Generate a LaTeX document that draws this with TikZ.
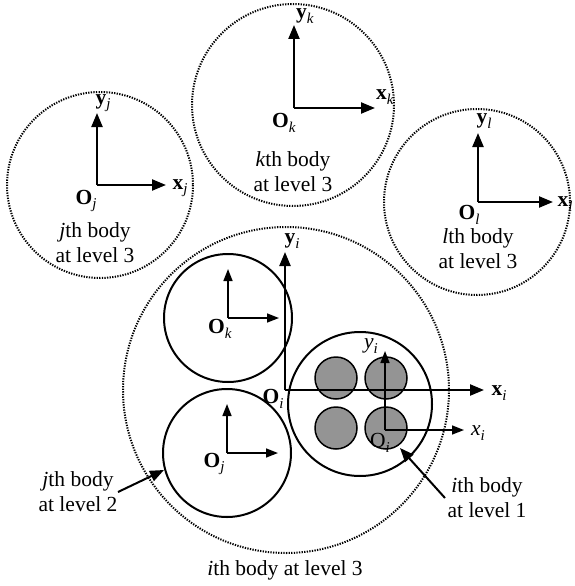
\documentclass[tikz,border=0pt]{standalone}
\usepackage{fontspec}
\setmainfont{Liberation Serif}
\usetikzlibrary{arrows.meta}
\newcommand\blab[2]{\textbf{#1}\raisebox{-0.45ex}{\fontsize{15}{15}\selectfont\textit{#2}}}
\newcommand\rlab[2]{#1\raisebox{-0.45ex}{\fontsize{15}{15}\selectfont\textit{#2}}}
\begin{document}
\begin{tikzpicture}[x=1pt,y=-1pt,
  dotc/.style={line width=2pt, dash pattern=on 1.3pt off 1.3pt},
  solidc/.style={line width=2pt},
  axisA/.style={line width=2.2pt,-{Triangle[length=14pt,width=11pt]}},
  axisB/.style={line width=1.6pt,-{Triangle[length=12pt,width=9pt]}},
  callout/.style={line width=2pt,-{Triangle[length=14pt,width=11pt]}},
  txt/.style={font=\fontsize{21.5}{25}\selectfont, inner sep=0pt, align=center},
  lab/.style={font=\fontsize{21.5}{25}\selectfont, inner sep=0pt},
  grey/.style={line width=1.5pt, fill=black!42}]
\useasboundingbox (0,0) rectangle (574,586);
\fill[white] (0,0) rectangle (574,586);

% ---- level 3 bodies j, k, l ----
\coordinate (Cj) at (100,185);
\coordinate (Ck) at (293,105);
\coordinate (Cl) at (477,202);
\draw[dotc] (Cj) circle (93);
\draw[dotc] (Ck) circle (101);
\draw[dotc] (Cl) circle (93);

% body j
\coordinate (Oj) at (97,185);
\coordinate (yj) at (97,113);
\coordinate (xj) at (166,185);
\draw[axisA] (Oj) -- (yj);
\draw[axisA] (Oj) -- (xj);
\node[lab] (lyj) at (103,103) {\blab{y}{j}};
\node[lab] (lxj) at (180,188) {\blab{x}{j}};
\node[lab] (lOj) at (86,201) {\blab{O}{j}};
\node[txt] (tj) at (95,243) {\textit{j}th body\\at level 3};

% body k
\coordinate (Ok) at (294,108);
\coordinate (yk) at (294,25);
\coordinate (xk) at (375,108);
\draw[axisA] (Ok) -- (yk);
\draw[axisA] (Ok) -- (xk);
\node[lab] (lyk) at (305,16) {\blab{y}{k}};
\node[lab] (lxk) at (385,97) {\blab{x}{k}};
\node[lab] (lOk) at (284,123) {\blab{O}{k}};
\node[txt] (tk) at (293,172) {\textit{k}th body\\at level 3};

% body l
\coordinate (Ol) at (478,202);
\coordinate (yl) at (478,133);
\coordinate (xl) at (553,202);
\draw[axisA] (Ol) -- (yl);
\draw[axisA] (Ol) -- (xl);
\node[lab] (lyl) at (484,121) {\blab{y}{l}};
\node[lab] (lxl) at (565,204) {\blab{x}{l}};
\node[lab] (lOl) at (469,215) {\blab{O}{l}};
\node[txt] (tl) at (478,249) {\textit{l}th body\\at level 3};

% ---- ith body at level 3 ----
\coordinate (Ci) at (286,390);
\draw[dotc] (Ci) circle (163);

% level 2 bodies
\coordinate (C2k) at (228,318);
\coordinate (C2j) at (227,453);
\draw[solidc] (C2k) circle (64);
\draw[solidc] (C2j) circle (64);
\coordinate (y2k) at (228,269);
\coordinate (x2k) at (279,318);
\draw[axisB] (C2k) -- (y2k);
\draw[axisB] (C2k) -- (x2k);
\node[lab] (lO2k) at (220,329) {\blab{O}{k}};
\coordinate (y2j) at (227,404);
\coordinate (x2j) at (278,453);
\draw[axisB] (C2j) -- (y2j);
\draw[axisB] (C2j) -- (x2j);
\node[lab] (lO2j) at (214,464) {\blab{O}{j}};

% level 1 body
\coordinate (C1) at (360,404);
\draw[solidc] (C1) circle (72);
\draw[grey] (336,378) circle (21);
\draw[grey] (386,378) circle (21);
\draw[grey] (336,428) circle (21);
\draw[grey] (386,428) circle (21);
\coordinate (O1) at (385,430);
\coordinate (y1) at (385,351);
\coordinate (x1) at (464,430);
\draw[axisB] (O1) -- (y1);
\draw[axisB] (O1) -- (x1);
\node[lab] (ly1) at (371,346) {\rlab{\textit{y}}{i}};
\node[lab] (lx1) at (478,433) {\rlab{\textit{x}}{i}};
\node[lab] (lO1) at (380,443) {\rlab{O}{i}};

% main axes of body i
\coordinate (Oi) at (285,390);
\coordinate (yi) at (285,252);
\coordinate (xi) at (484,390);
\draw[axisA] (Oi) -- (yi);
\draw[axisA] (Oi) -- (xi);
\node[lab] (lyi) at (292,241) {\blab{y}{i}};
\node[lab] (lxi) at (499,393) {\blab{x}{i}};
\node[lab] (lOi) at (273,399) {\blab{O}{i}};

% callouts
\node[txt] (t1) at (487,498) {\textit{i}th body\\at level 1};
\node[txt] (t2) at (78,492) {\textit{j}th body\\at level 2};
\node[txt] (t3) at (285,570) {\textit{i}th body at level 3};
\coordinate (a1s) at (445,498);
\coordinate (a1e) at (400,448);
\coordinate (a2s) at (118,492);
\coordinate (a2e) at (164,470);
\draw[callout] (a1s) -- (a1e);
\draw[callout] (a2s) -- (a2e);
\end{tikzpicture}
\end{document}
